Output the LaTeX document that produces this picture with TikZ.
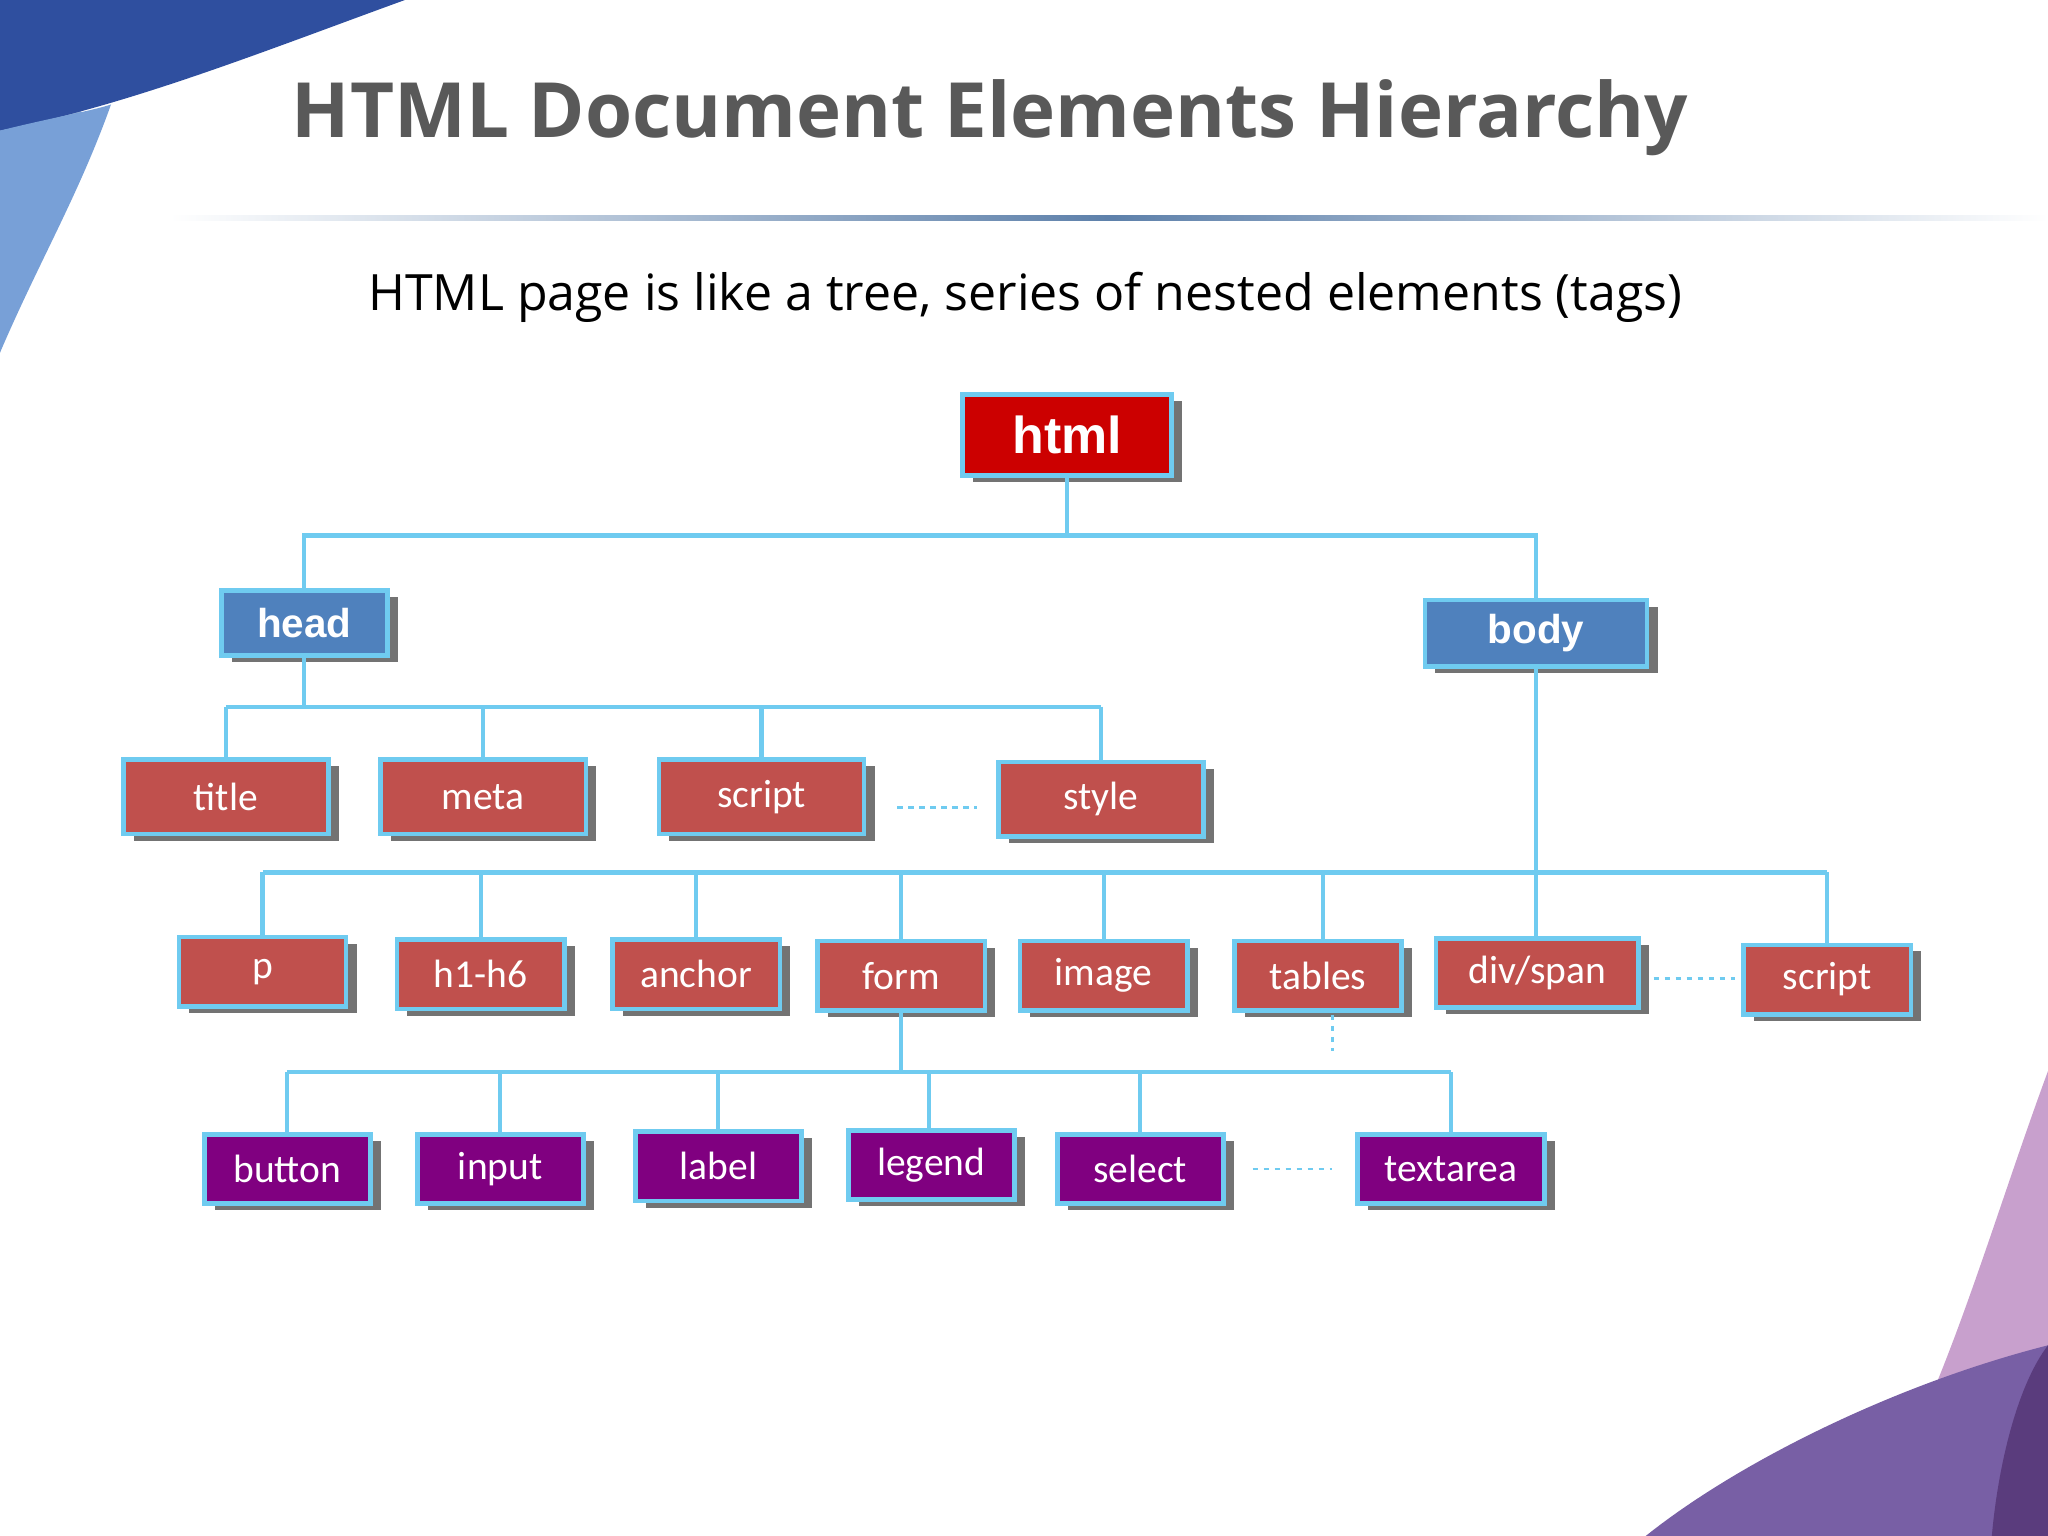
\documentclass[tikz,border=0pt]{standalone}
\usepackage{fontspec}
\setmainfont{Carlito}
\newfontfamily\ttl{Open Sans}
\newfontfamily\arl{Liberation Sans}
\usetikzlibrary{shadows}
\definecolor{lnk}{HTML}{6FCBF0}
\definecolor{redb}{HTML}{C0504D}
\definecolor{blueb}{HTML}{4F81BD}
\definecolor{purb}{HTML}{800080}
\definecolor{htmlb}{HTML}{CC0000}
\definecolor{dk1}{RGB}{47,79,159}
\definecolor{lt1}{RGB}{120,160,215}
\definecolor{pp1}{RGB}{200,160,205}
\definecolor{pp2}{RGB}{120,95,165}
\definecolor{pp3}{RGB}{90,60,125}
\tikzset{
 bx/.style={draw=lnk,line width=1pt,inner sep=0pt,text=white,minimum height=0.54cm,
   drop shadow={shadow xshift=0.08cm,shadow yshift=-0.05cm,fill=gray!90!black,opacity=1}},
 rb/.style={bx,fill=redb,minimum width=1.57cm,minimum height=0.57cm,font=\fontsize{8.6}{10}\selectfont},
 r2/.style={bx,fill=redb,minimum width=1.28cm,minimum height=0.53cm,font=\fontsize{8.6}{10}\selectfont},
 pb/.style={bx,fill=purb,minimum width=1.27cm,minimum height=0.53cm,font=\fontsize{8.6}{10}\selectfont},
 hb/.style={bx,fill=blueb,minimum height=0.5cm,font=\arl\bfseries\fontsize{8.8}{10}\selectfont},
 ln/.style={draw=lnk,line width=0.9pt},
 dl/.style={draw=lnk,line width=0.6pt,dash pattern=on 1.2pt off 1.2pt}
}
\begin{document}
\begin{tikzpicture}[x=0.01cm,y=-0.01cm]
\useasboundingbox (0,0) rectangle (1568,1176);
% decorations
\fill[blueb!60!white] (0,0) -- (100,0) .. controls (60,80) and (30,170) .. (0,270) -- cycle;
\fill[dk1] (0,0) -- (310,0) .. controls (200,40) and (100,80) .. (0,100) -- cycle;
\fill[lt1] (0,100) .. controls (40,90) and (70,85) .. (85,80) .. controls (60,150) and (30,200) .. (0,270) -- cycle;
\fill[pp1] (1568,820) .. controls (1520,950) and (1480,1100) .. (1420,1176) -- (1568,1176) -- cycle;
\fill[pp2] (1568,1030) .. controls (1450,1060) and (1330,1120) .. (1260,1176) -- (1568,1176) -- cycle;
\fill[pp3] (1568,1030) .. controls (1545,1060) and (1530,1120) .. (1525,1176) -- (1568,1176) -- cycle;
% title
\node (T) at (758,90) {\ttl\bfseries\color[HTML]{595959}\fontsize{16.6}{20}\selectfont HTML Document Elements Hierarchy};
\shade[left color=white,right color=blueb!70!gray] (130,165) rectangle (850,169);
\shade[left color=blueb!70!gray,right color=white] (850,165) rectangle (1568,169);
\node (S) at (785,228) {\ttl\fontsize{10.9}{13}\selectfont HTML page is like a tree, series of nested elements (tags)};
% nodes
\node[bx,fill=htmlb,minimum width=1.6cm,minimum height=0.62cm,font=\arl\bfseries\fontsize{11.3}{13}\selectfont] (html) at (817,333) {html};
\node[hb,minimum width=1.27cm] (head) at (233,477) {head};
\node[hb,minimum width=1.7cm,minimum height=0.51cm] (body) at (1176,485) {body};
\node[rb] (title) at (173,610) {title};
\node[rb] (meta) at (370,610) {meta};
\node[rb] (script1) at (583,610) {script};
\node[rb] (style) at (843,612) {style};
\node[r2] (p) at (201,744) {p};
\node[r2] (h) at (368,746) {h1-h6};
\node[r2] (anchor) at (533,746) {anchor};
\node[r2] (form) at (690,747) {form};
\node[r2] (image) at (845,747) {image};
\node[r2] (tables) at (1009,747) {tables};
\node[r2,minimum width=1.55cm] (div) at (1177,745) {div/span};
\node[r2] (script2) at (1399,750) {script};
\node[pb] (button) at (220,895) {button};
\node[pb] (input) at (383,895) {input};
\node[pb] (label) at (550,893) {label};
\node[pb] (legend) at (713,892) {legend};
\node[pb] (select) at (873,895) {select};
\node[pb,minimum width=1.43cm] (textarea) at (1111,895) {textarea};
% connectors
\draw[ln] (html.south) -- (817,410) -| (head.north);
\draw[ln] (817,410) -| (body.north);
\draw[ln] (head.south) -- (233,541);
\draw[ln] (173,541) -- (843,541);
\foreach \n/\x in {title/173,meta/370,script1/583,style/843} \draw[ln] (\x,541) -- (\n.north);
\draw[ln] (body.south) -- (1176,668);
\draw[ln] (201,668) -- (1399,668);
\foreach \n/\x in {p/201,h/368,anchor/533,form/690,image/845,tables/1013,div/1176,script2/1399} \draw[ln] (\x,668) -- (\x,0|-\n.north);
\draw[ln] (form.south) -- (690,821);
\draw[ln] (220,821) -- (1111,821);
\foreach \n/\x in {button/220,input/383,label/550,legend/711,select/873,textarea/1111} \draw[ln] (\x,821) -- (\x,0|-\n.north);
\coordinate (c1) at (687,618); \coordinate (c2) at (748,618);
\draw[dl] (c1) -- (c2);
\coordinate (c3) at (1266,749); \coordinate (c4) at (1328,749);
\draw[dl] (c3) -- (c4);
\coordinate (c5) at (959,895); \coordinate (c6) at (1020,895);
\draw[dl] (c5) -- (c6);
\coordinate (c7) at (1020,805);
\draw[dl] (1020,777) -- (c7);
\end{tikzpicture}
\end{document}
